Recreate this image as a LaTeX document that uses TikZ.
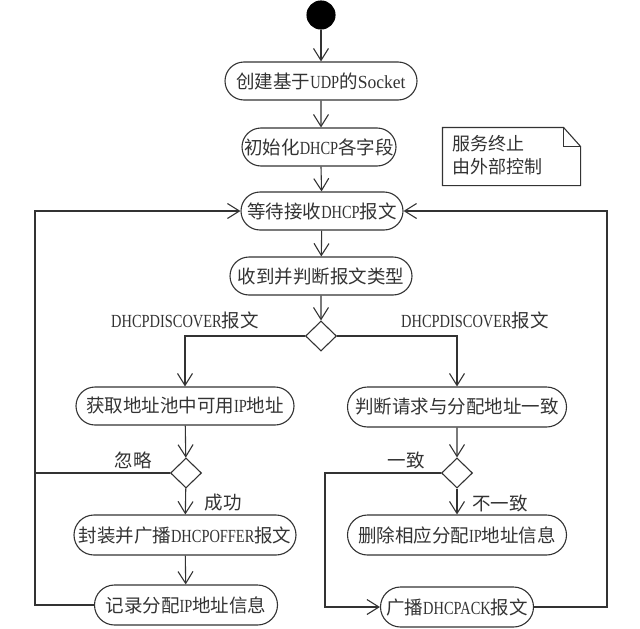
\documentclass[tikz,border=0pt]{standalone}
\usepackage{fontspec}
\setmainfont{Noto Sans CJK SC}
\newfontfamily\latn[FakeStretch=0.78]{Liberation Serif}
\newfontfamily\latw[FakeStretch=0.95]{Liberation Serif}
\usetikzlibrary{shapes.misc,shapes.geometric,arrows.meta}
\definecolor{ink}{HTML}{333333}
\begin{document}
\begin{tikzpicture}[x=1pt,y=-1pt,line width=1.1pt,color=ink,
  act/.style={draw, rounded rectangle, minimum height=38pt, inner xsep=4pt, font=\fontsize{18.5}{20}\selectfont},
  dec/.style={draw, diamond, minimum width=31pt, minimum height=30pt, inner sep=0pt},
  lbl/.style={font=\fontsize{18.5}{20}\selectfont},
  flow/.style={-{Straight Barb[length=12pt,width=15pt]}}
]
\useasboundingbox (0,0) rectangle (640,629);
\node[circle, fill=black, draw=black, minimum size=28pt, inner sep=0pt] (start) at (321,15) {};
\node[act, minimum width=200pt] (n1) at (321,81) {创建基于{\latn UDP}的{\latw Socket}};
\node[act, minimum width=162pt] (n2) at (319,147) {初始化{\latn DHCP}各字段};
\node[act, minimum width=170pt] (n3) at (322,211) {等待接收{\latn DHCP}报文};
\node[act, minimum width=190pt] (n4) at (321,276) {收到并判断报文类型};
\node[dec] (d1) at (321,336) {};
\node[act, minimum width=226pt] (n5) at (185,406) {获取地址池中可用{\latn IP}地址};
\node[dec] (d2) at (186,473) {};
\node[act, minimum width=230pt, minimum height=40pt] (n6) at (185,535) {封装并广播{\latn DHCPOFFER}报文};
\node[act, minimum width=191pt, minimum height=40pt] (n7) at (186,605) {记录分配{\latn IP}地址信息};
\node[act, minimum width=227pt, minimum height=40pt] (n8) at (457,407) {判断请求与分配地址一致};
\node[dec] (d3) at (457,473) {};
\node[act, minimum width=227pt, minimum height=40pt] (n9) at (457,535) {删除相应分配{\latn IP}地址信息};
\node[act, minimum width=161pt, minimum height=40pt] (n10) at (457,607) {广播{\latn DHCPACK}报文};

% note
\node[minimum width=137pt, minimum height=57pt, inner sep=0pt] (note) at (511.5,156.5) {};
\node[lbl, font=\fontsize{18}{23}\selectfont, align=left, anchor=north west] (notetxt) at (449,131) {服务终止\\由外部控制};
\draw ([xshift=-17pt]note.north east) -- (note.north west) -- (note.south west) -- (note.south east) -- ([yshift=-19pt]note.north east) -- cycle;
\draw ([xshift=-17pt]note.north east) |- ([yshift=-19pt]note.north east);

% labels
\node[lbl] (l1) at (185,320) {{\latn DHCPDISCOVER}报文};
\node[lbl] (l2) at (475,320) {{\latn DHCPDISCOVER}报文};
\node[lbl] (l3) at (133,460) {忽略};
\node[lbl] (l4) at (223,503) {成功};
\node[lbl] (l5) at (406,460) {一致};
\node[lbl] (l6) at (500,503) {不一致};

\coordinate (L) at (35,0);
\coordinate (R) at (607,0);
\coordinate (M) at (325,0);

\draw[flow] (start) -- (n1);
\draw[flow] (n1) -- (n1.south |- n2.north);
\draw[flow] (n2.south -| n1.south) -- (n3);
\draw[flow] (n3) -- (n4);
\draw[flow] (n4) -- (d1);
\draw[flow] (d1.west) -| (n5.north);
\draw[flow] (d1.east) -| (n8.north);
\draw[flow] (n5) -- (d2);
\draw[flow] (d2) -- (n6);
\draw[flow] (n6) -- (n7);
\draw[flow] (n8) -- (d3);
\draw[flow] (d3) -- (n9);
\draw (d2.west) -- (d2.west -| L);
\draw[flow] (n7.west) -- (n7.west -| L) -- (n3.west -| L) -- (n3.west);
\draw[flow] (d3.west) -- (d3.west -| M) -- (n10.west -| M) -- (n10.west);
\draw[flow] (n10.east) -- (n10.east -| R) -- (n3.east -| R) -- (n3.east);
\end{tikzpicture}
\end{document}
